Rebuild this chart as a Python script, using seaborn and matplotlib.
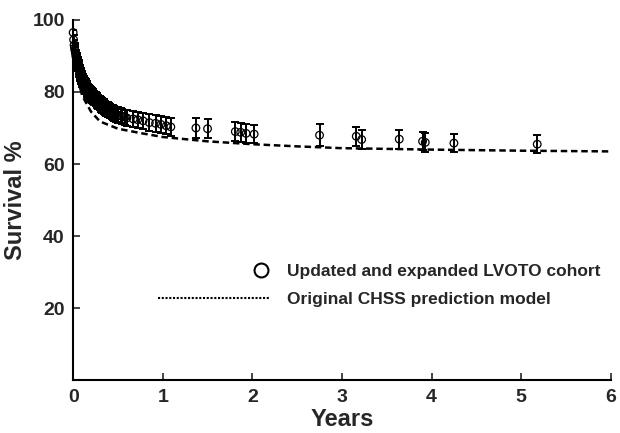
import numpy as np
import pandas as pd
import matplotlib
matplotlib.use("Agg")
import matplotlib.pyplot as plt
from matplotlib.lines import Line2D
from matplotlib.legend_handler import HandlerLine2D
import seaborn as sns

# observed cohort survival (years, %, half-width of error bar)
obs_years = [0.0, 0.005, 0.01, 0.015, 0.02, 0.025, 0.03, 0.035, 0.04, 0.045,
             0.05, 0.055, 0.06, 0.065, 0.07, 0.075, 0.08, 0.085, 0.09, 0.095,
             0.10, 0.11, 0.12, 0.13, 0.14, 0.15, 0.16, 0.17, 0.18, 0.19,
             0.20, 0.21, 0.22, 0.235, 0.25, 0.265, 0.28, 0.295, 0.31, 0.325,
             0.34, 0.355, 0.37, 0.385, 0.40, 0.415, 0.43, 0.445, 0.46, 0.48,
             0.50, 0.53, 0.55, 0.58, 0.60, 0.67, 0.72, 0.78, 0.85, 0.92,
             0.98, 1.04, 1.09, 1.37, 1.50, 1.81, 1.87, 1.93, 2.02, 2.75,
             3.16, 3.22, 3.64, 3.90, 3.93, 4.25, 5.18]
obs_surv = [96.5, 94.5, 93.0, 92.2, 91.5, 90.8, 90.0, 89.5, 89.0, 88.5,
            88.0, 87.5, 87.0, 86.5, 86.0, 85.5, 85.0, 84.7, 84.3, 83.9,
            83.5, 83.0, 82.5, 82.0, 81.5, 81.0, 80.5, 80.3, 80.0, 79.6,
            79.3, 79.0, 78.7, 78.3, 78.0, 77.6, 77.2, 76.9, 76.5, 76.2,
            76.0, 75.6, 75.3, 75.1, 75.0, 74.7, 74.5, 74.2, 74.0, 73.8,
            73.6, 73.4, 73.2, 73.0, 72.8, 72.5, 72.3, 72.0, 71.5, 71.3,
            71.0, 70.6, 70.3, 70.0, 69.8, 69.0, 68.8, 68.5, 68.3, 68.0,
            67.7, 66.8, 66.9, 66.3, 66.0, 65.8, 65.5]
obs_err = [0.8, 1.2, 1.4, 1.5, 1.6, 1.6, 1.7, 1.7, 1.8, 1.8,
           1.8, 1.8, 1.9, 1.9, 1.9, 1.9, 1.9, 2.0, 2.0, 2.0,
           2.0, 2.0, 2.0, 2.0, 2.0, 2.0, 2.0, 2.0, 2.0, 2.0,
           2.0, 2.0, 2.0, 2.0, 2.0, 2.0, 2.0, 2.0, 2.0, 2.0,
           2.0, 2.0, 2.0, 2.0, 2.0, 2.0, 2.0, 2.1, 2.1, 2.1,
           2.1, 2.1, 2.1, 2.1, 2.2, 2.2, 2.2, 2.3, 2.3, 2.3,
           2.4, 2.4, 2.4, 2.7, 2.6, 2.6, 2.6, 2.6, 2.6, 3.0,
           2.6, 2.6, 2.6, 2.5, 2.6, 2.5, 2.5]

# original CHSS prediction model
model_years = [0.0, 0.02, 0.05, 0.1, 0.2, 0.3, 0.5, 0.75, 1.0, 1.5,
               2.0, 2.5, 3.0, 4.0, 5.0, 6.0]
model_surv = [95.0, 89.0, 84.0, 79.0, 74.5, 71.8, 69.8, 68.6, 67.5, 66.3,
              65.5, 64.9, 64.4, 64.0, 63.7, 63.5]

obs = pd.DataFrame({"years": obs_years, "surv": obs_surv, "err": obs_err})
model = pd.DataFrame({"years": model_years, "surv": model_surv})


class RightMarkerHandler(HandlerLine2D):
    # put the legend circle at the right end of the handle box
    def create_artists(self, legend, orig_handle, xdescent, ydescent,
                       width, height, fontsize, trans):
        artists = super().create_artists(legend, orig_handle, xdescent, ydescent,
                                         width, height, fontsize, trans)
        for a in artists:
            if a.get_marker() not in (None, "None", ""):
                a.set_xdata([width - xdescent - 6])
        return artists


sns.set_theme(style="ticks")
plt.rcParams["font.family"] = ["Liberation Sans", "DejaVu Sans"]
plt.rcParams["font.weight"] = "bold"

fig = plt.figure(figsize=(6.2, 4.33), dpi=100)
ax = fig.add_axes([0.118, 0.122, 0.867, 0.832])

sns.lineplot(data=model, x="years", y="surv", ax=ax, color="black",
             linewidth=1.8, dashes=False)
ax.lines[-1].set_dashes((2.6, 1.5))

ax.errorbar(obs["years"], obs["surv"], yerr=obs["err"], fmt="none",
            ecolor="black", elinewidth=1.4, capsize=3, capthick=1.4, zorder=3)
sns.scatterplot(data=obs, x="years", y="surv", ax=ax, marker="o", s=30,
                facecolor="none", edgecolor="black", linewidth=0.9, zorder=4,
                clip_on=False)

ax.set_xlim(0, 6)
ax.set_ylim(0, 100)
ax.set_xticks(range(0, 7))
ax.set_yticks([20, 40, 60, 80, 100])
ax.tick_params(direction="in", length=5, width=1.2, labelsize=14, pad=6)
for lab in ax.get_xticklabels() + ax.get_yticklabels():
    lab.set_fontweight("bold")
ax.set_xlabel("Years", fontsize=17, fontweight="bold", labelpad=2)
ax.set_ylabel("Survival %", fontsize=17, fontweight="bold", labelpad=4)
sns.despine(ax=ax)
for s in ["left", "bottom"]:
    ax.spines[s].set_linewidth(1.5)
    ax.spines[s].set_color("black")

handles = [
    Line2D([], [], marker="o", linestyle="none", markersize=10,
           markerfacecolor="none", markeredgecolor="black", markeredgewidth=1.5),
    Line2D([], [], color="black", linestyle=(0, (1, 0.8)), linewidth=1.5),
]
labels = ["Updated and expanded LVOTO cohort", "Original CHSS prediction model"]
ax.legend(handles, labels, loc="lower right", bbox_to_anchor=(1.01, 0.16),
          frameon=False, handlelength=6.4, handletextpad=1.0, labelspacing=0.75,
          prop={"weight": "bold", "size": 12.5},
          handler_map={handles[0]: RightMarkerHandler()})

fig.savefig("out.png", dpi=100)
